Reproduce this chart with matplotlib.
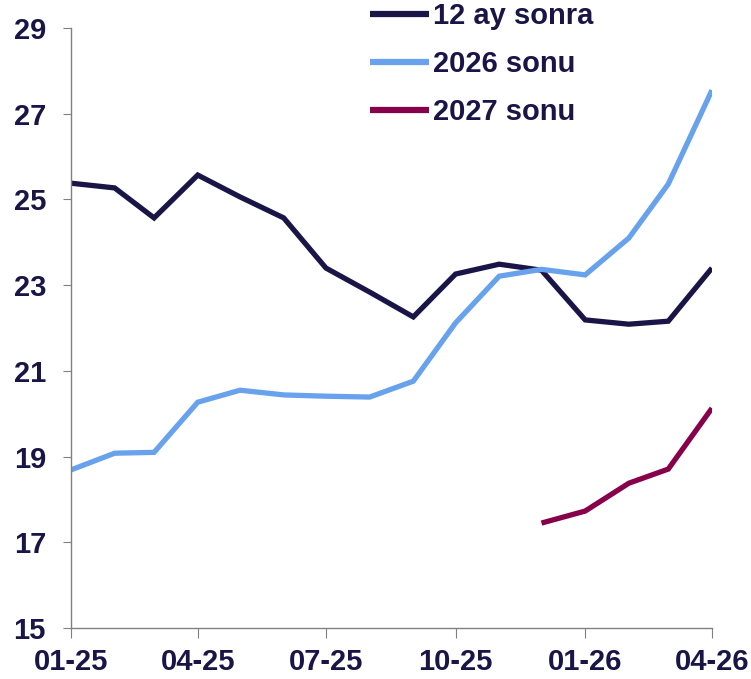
import matplotlib
matplotlib.use("Agg")
import numpy as np
import pandas as pd
from matplotlib import pyplot as plt
import matplotlib.dates as mdates

months = pd.date_range("2025-01-01", "2026-04-01", freq="MS")

ay12 = [25.38, 25.27, 24.57, 25.57, 25.06, 24.57, 23.40, 22.84, 22.26,
        23.26, 23.49, 23.35, 22.19, 22.09, 22.16, 23.40]
sonu2026 = [18.69, 19.08, 19.10, 20.27, 20.55, 20.44, 20.41, 20.39, 20.76,
            22.12, 23.21, 23.37, 23.24, 24.10, 25.36, 27.55]
sonu2027 = [17.45, 17.73, 18.38, 18.71, 20.13]

names = ["12 ay sonra", "2026 sonu", "2027 sonu"]
colors = ["#1b1547", "#68a2ec", "#87004a"]
txt = "#1b1547"

plt.rcParams["font.family"] = ["Liberation Sans", "DejaVu Sans"]

fig = plt.figure(figsize=(7.51, 6.79), dpi=100)
ax = fig.add_axes([0.0945, 0.075, 0.8535, 0.8837])

for ys, xs, c, n in [(ay12, months, colors[0], names[0]),
                     (sonu2026, months, colors[1], names[1]),
                     (sonu2027, months[-5:], colors[2], names[2])]:
    ax.plot(xs, ys, color=c, lw=3.8, label=n, solid_joinstyle="miter",
            solid_capstyle="butt")

ax.set_ylim(15, 29)
ax.set_yticks(np.arange(15, 30, 2))
ax.set_xlim(months[0], months[-1])
ax.set_xticks(months[::3])
ax.xaxis.set_major_formatter(mdates.DateFormatter("%m-%y"))

for s in ["top", "right"]:
    ax.spines[s].set_visible(False)
for s in ["left", "bottom"]:
    ax.spines[s].set_color("#808080")
    ax.spines[s].set_linewidth(1.0)

ax.tick_params(axis="y", direction="out", length=6, color="#808080", pad=12,
               labelsize=21, labelcolor=txt)
ax.tick_params(axis="x", direction="out", length=7, color="#808080", pad=7,
               labelsize=21, labelcolor=txt)
for lab in ax.get_xticklabels() + ax.get_yticklabels():
    lab.set_fontweight("bold")

leg = ax.legend(loc="upper left", bbox_to_anchor=(0.435, 1.077), frameon=False,
                handlelength=2.0, handletextpad=0.15, labelspacing=0.68,
                borderaxespad=0.3, prop={"size": 21, "weight": "bold"})
for t in leg.get_texts():
    t.set_color(txt)
for h in leg.get_lines():
    h.set_linewidth(4.5)

fig.savefig("out.png", dpi=100)
